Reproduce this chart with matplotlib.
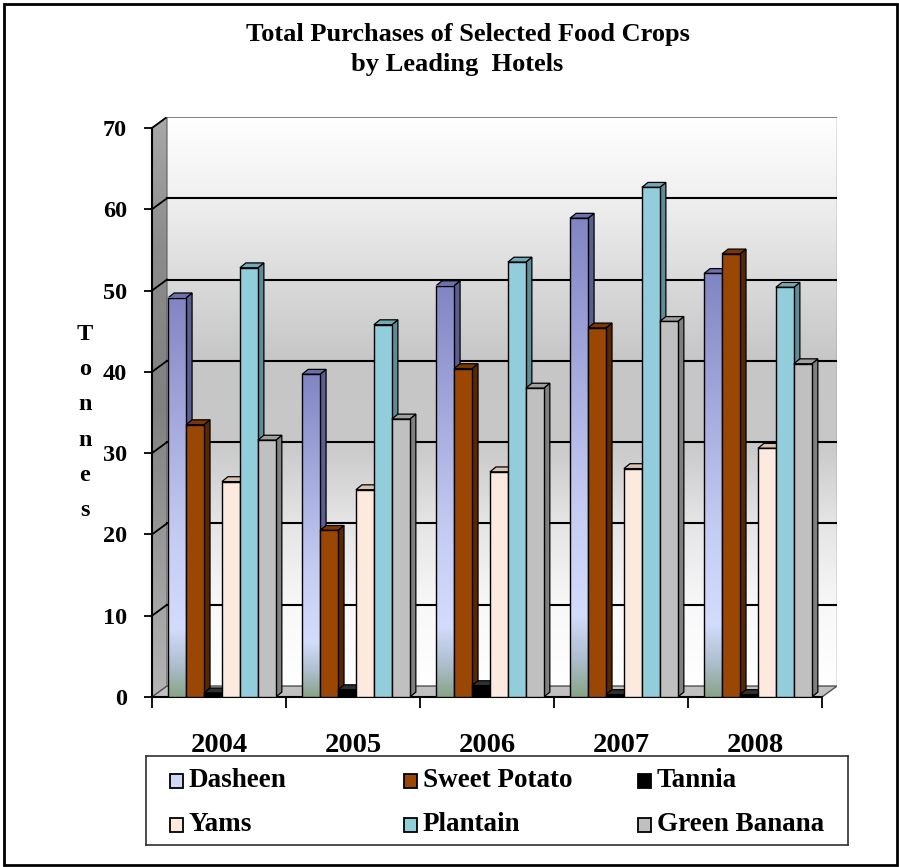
import matplotlib.pyplot as plt
import numpy as np
from matplotlib.patches import Polygon, Rectangle
from matplotlib.colors import LinearSegmentedColormap

SERIF = ['Liberation Serif', 'DejaVu Serif']

years = ['2004', '2005', '2006', '2007', '2008']
series_names = ['Dasheen', 'Sweet Potato', 'Tannia', 'Yams', 'Plantain', 'Green Banana']
dasheen = [49.1, 39.7, 50.6, 58.9, 52.1]
sweet_potato = [33.5, 20.5, 40.4, 45.4, 54.5]
tannia = [0.5, 0.9, 1.4, 0.3, 0.3]
yams = [26.5, 25.5, 27.7, 28.1, 30.6]
plantain = [52.8, 45.8, 53.5, 62.7, 50.4]
green_banana = [31.6, 34.2, 38.0, 46.2, 41.0]
series_values = [dasheen, sweet_potato, tannia, yams, plantain, green_banana]

front_colors = ['#d0d8fa', '#9a4605', '#000000', '#fdeade', '#92cddc', '#c0c0c0']
side_colors = ['#5b5e90', '#5a2800', '#000000', '#b8a090', '#5e8d99', '#808080']
top_colors = ['#6d70aa', '#7a3703', '#303030', '#d8c2b2', '#73a9b6', '#a0a0a0']

# 3d look: depth of bars and of the walls, in data units
BAR_W = 0.134
BAR_SHIFT = 0.022
BDX, BDY = 0.045, 0.6
WDX, WDY = 0.112, 1.35
YMAX = 70

dasheen_cmap = LinearSegmentedColormap.from_list('dash', [
    (0.0, '#88a488'), (0.08, '#aebfcf'), (0.17, '#d3dcfd'),
    (0.4, '#c4ccf3'), (1.0, '#8185c3')])
wall_cmap = LinearSegmentedColormap.from_list('wall', [
    (0.0, '#ffffff'), (0.14, '#f8f8f8'), (0.29, '#e4e4e4'), (0.43, '#c8c8c8'),
    (0.57, '#c6c6c6'), (0.71, '#dadada'), (0.86, '#f0f0f0'), (1.0, '#ffffff')])
side_cmap = LinearSegmentedColormap.from_list('side', [
    (0.0, '#b4b4b4'), (0.2, '#a0a0a0'), (0.5, '#808080'),
    (0.78, '#8c8c8c'), (1.0, '#a8a8a8')])
grad = np.linspace(0, 1, 256).reshape(-1, 1)

fig = plt.figure(figsize=(8.99, 8.67), dpi=100)
ax = fig.add_axes([152 / 899, 170 / 867, 685 / 899, 580 / 867])

# back wall
ax.imshow(grad, extent=(-0.5 + WDX, 4.5 + WDX, WDY, YMAX + WDY), origin='lower',
          aspect='auto', cmap=wall_cmap, zorder=0.5)
ax.plot([4.5 + WDX, 4.5 + WDX], [WDY, YMAX + WDY], color='#808080', lw=1, zorder=1.3)

# left wall
lw_poly = Polygon([(-0.5, 0), (-0.5, YMAX), (-0.5 + WDX, YMAX + WDY), (-0.5 + WDX, WDY)],
                  closed=True, facecolor='none', edgecolor='#606060', lw=0.8, zorder=1.1)
im = ax.imshow(grad, extent=(-0.5, -0.5 + WDX, 0, YMAX + WDY), origin='lower',
               aspect='auto', cmap=side_cmap, zorder=1.0)
ax.add_patch(lw_poly)
im.set_clip_path(lw_poly)

# floor
ax.add_patch(Polygon([(-0.5, 0), (4.5, 0), (4.5 + WDX, WDY), (-0.5 + WDX, WDY)],
                     closed=True, facecolor='#c0c0c0', edgecolor='#505050', lw=1, zorder=1.2))

# gridlines on the walls
for v in range(10, YMAX + 1, 10):
    ax.plot([-0.5, -0.5 + WDX], [v, v + WDY], color='black', lw=1.3, zorder=1.3)
    ax.plot([-0.5 + WDX, 4.5 + WDX], [v + WDY, v + WDY],
            color='black' if v < YMAX else '#707070', lw=1.5 if v < YMAX else 1.2, zorder=1.3)

# bars
x = np.arange(len(years))
for j, vals in enumerate(series_values):
    xs = x + BAR_SHIFT + (j - 2.5) * BAR_W
    z = 3 + j * 0.01
    for xl, h in zip(xs - BAR_W / 2, vals):
        xr = xl + BAR_W
        ax.add_patch(Polygon([(xr, 0), (xr, h), (xr + BDX, h + BDY), (xr + BDX, BDY)],
                             closed=True, facecolor=side_colors[j], edgecolor='black',
                             lw=0.9, zorder=z))
        ax.add_patch(Polygon([(xl, h), (xr, h), (xr + BDX, h + BDY), (xl + BDX, h + BDY)],
                             closed=True, facecolor=top_colors[j], edgecolor='black',
                             lw=0.9, zorder=z))
        if j == 0:
            ax.imshow(grad, extent=(xl, xr, 0, h), origin='lower', aspect='auto',
                      cmap=dasheen_cmap, zorder=z)
    ax.bar(xs, vals, width=BAR_W, color='none' if j == 0 else front_colors[j],
           edgecolor='black', linewidth=1.0, zorder=z + 0.001)

ax.set_xlim(-0.5, 4.5 + WDX)
ax.set_ylim(0, YMAX + WDY)

for s in ['top', 'right']:
    ax.spines[s].set_visible(False)
ax.spines['left'].set_bounds(0, YMAX)
ax.spines['bottom'].set_bounds(-0.5, 4.5)
for s in ['left', 'bottom']:
    ax.spines[s].set_linewidth(1.5)

ax.set_yticks(range(0, YMAX + 1, 10))
ax.set_xticks(x)
ax.set_xticklabels(years)
ax.set_xticks(np.arange(-0.5, 5, 1), minor=True)
ax.tick_params(axis='y', direction='out', length=6, width=1.3, pad=12, labelsize=17.5)
ax.tick_params(axis='x', which='major', length=0, pad=26, labelsize=20.5)
ax.tick_params(axis='x', which='minor', direction='out', length=8, width=1.3)
for lbl in ax.get_xticklabels() + ax.get_yticklabels():
    lbl.set_fontfamily(SERIF)
    lbl.set_fontweight('bold')

# title
fig.text(468 / 899, 1 - 35 / 867, 'Total Purchases of Selected Food Crops', ha='center',
         va='center', fontsize=19, fontweight='bold', family=SERIF)
fig.text(457 / 899, 1 - 64 / 867, 'by Leading  Hotels', ha='center', va='center',
         fontsize=19, fontweight='bold', family=SERIF)

# vertical axis title, one letter per line
for i, ch in enumerate('Tonnes'):
    fig.text(85 / 899, 1 - (334 + i * 35.4) / 867, ch, ha='center', va='center',
             fontsize=17.5, fontweight='bold', family=SERIF)

# legend box
lax = fig.add_axes([146 / 899, 22 / 867, 702 / 899, 89 / 867])
lax.set_xlim(0, 1)
lax.set_ylim(0, 1)
lax.set_xticks([])
lax.set_yticks([])
for s in lax.spines.values():
    s.set_linewidth(1.2)
    s.set_color('#303030')
for i, name in enumerate(series_names):
    col, row = i % 3, i // 3
    sx = 0.034 + col * 0.3335
    sy = 0.72 - row * 0.495
    lax.add_patch(Rectangle((sx, sy - 0.075), 0.0185, 0.15, facecolor=front_colors[i],
                            edgecolor='black', lw=1.3))
    lax.text(sx + 0.027, sy, name, ha='left', va='center', fontsize=19.5,
             fontweight='bold', family=SERIF)

# outer frame
fig.add_artist(Rectangle((4 / 899, 2 / 867), 893 / 899, 861 / 867, transform=fig.transFigure,
                         fill=False, edgecolor='black', lw=2))

fig.savefig('out.png', dpi=100)
